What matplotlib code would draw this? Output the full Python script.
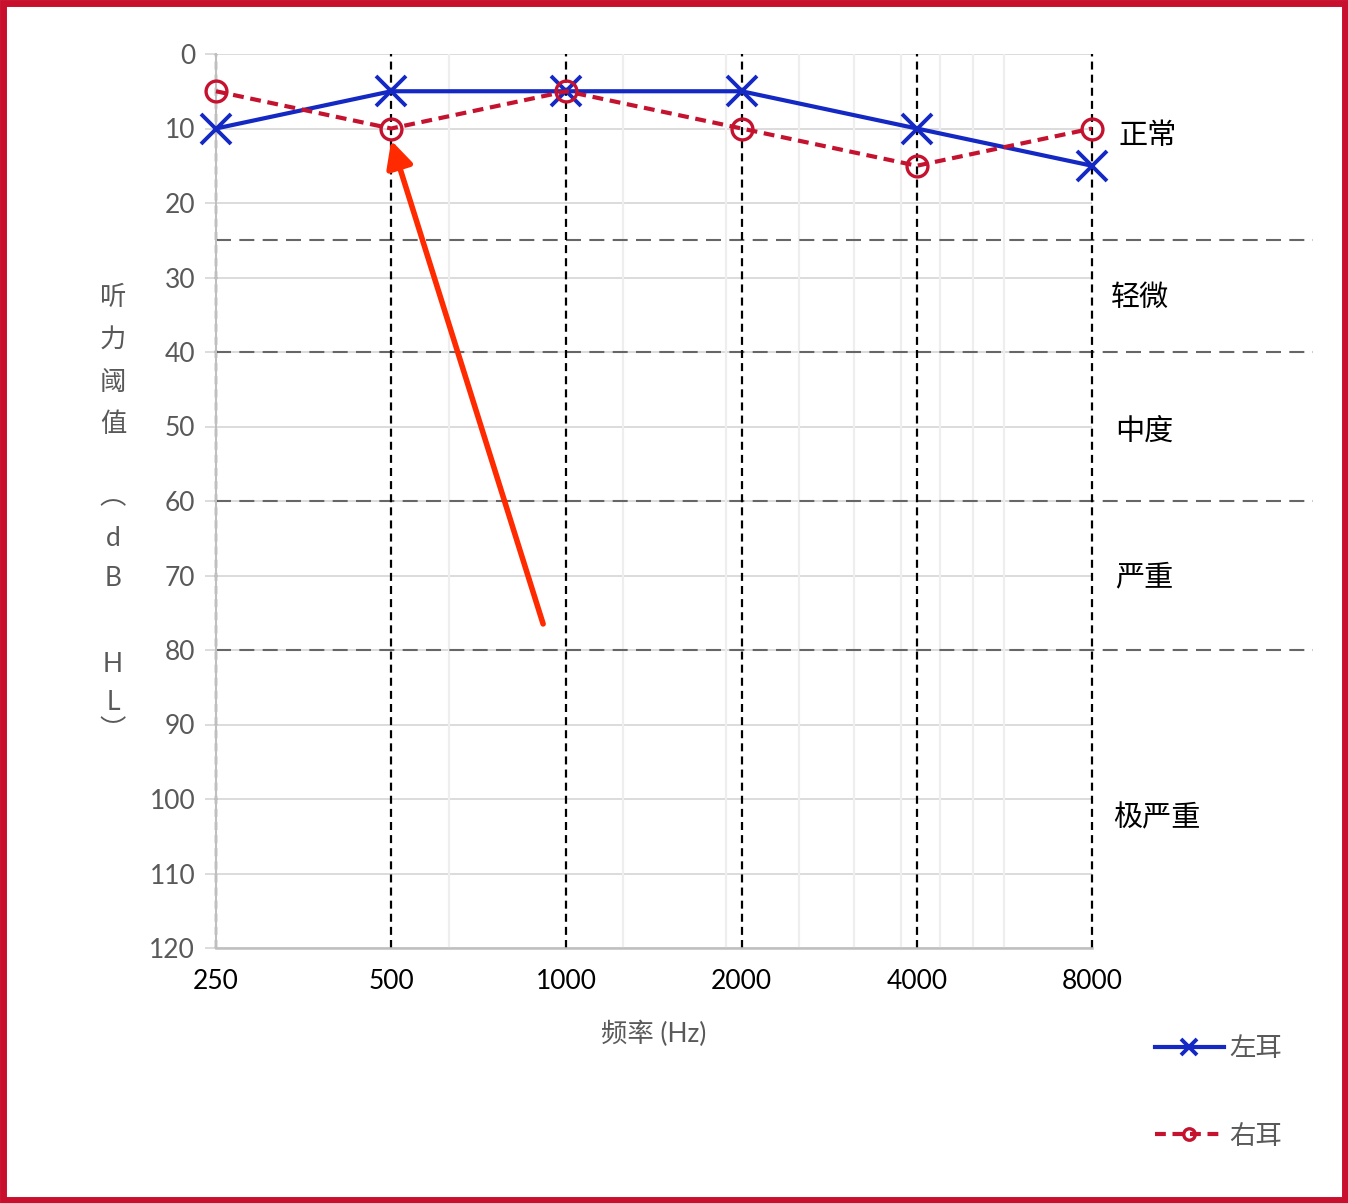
import matplotlib
matplotlib.use('Agg')
import matplotlib.pyplot as plt
import matplotlib.transforms as mtransforms
from matplotlib.patches import Rectangle

plt.rcParams['font.family'] = ['Noto Sans CJK SC', 'DejaVu Sans']

# data
freqs = [250, 500, 1000, 2000, 4000, 8000]
freq_labels = ['250', '500', '1000', '2000', '4000', '8000']
left_ear = [10, 5, 5, 5, 10, 15]
right_ear = [5, 10, 5, 10, 15, 10]
db_ticks = list(range(0, 121, 10))
band_limits = [25, 40, 60, 80]
band_names = ['正常', '轻微', '中度', '严重', '极严重']
band_label_y = [11, 32.7, 50.7, 70.2, 102.6]
band_label_x = [1.064, 1.055, 1.060, 1.060, 1.074]
minor_grid_hz = [628, 1253, 1884, 2513, 3121, 3758, 4385, 4990, 5640]
ylabel_chars = ['听', '力', '阈', '值', '︵', 'd', 'B', 'H', 'L', '︶']
ylabel_char_y = [297, 340, 383, 425, 497, 538, 578, 665, 703, 731]
arrow_tip = (500, 11.6)
arrow_tail = (912, 76.5)

W, H = 1348, 1203
fig = plt.figure(figsize=(W / 100, H / 100), dpi=100)
ax_left, ax_right, ax_top, ax_bot = 216, 1092, 54, 948
ax = fig.add_axes([ax_left / W, 1 - ax_bot / H, (ax_right - ax_left) / W, (ax_bot - ax_top) / H])

num_font = ['Lato', 'Noto Sans CJK SC']
blue = '#1428c4'
red = '#c4122f'

ax.set_xscale('log')
ax.set_xlim(250, 8000)
ax.set_ylim(120, 0)

# grid
for y in db_ticks:
    ax.axhline(y, color='#d9d9d9', lw=1.3, zorder=0)
for f in minor_grid_hz:
    ax.axvline(f, color='#eeeeee', lw=1.6, zorder=0)

# band boundaries
for b in band_limits:
    ax.axhline(b, xmin=0, xmax=(1313 - ax_left) / (ax_right - ax_left), color='#666666',
               lw=1.5, ls=(0, (7.2, 4.0)), clip_on=False, zorder=2)

# frequency verticals
for f in freqs:
    ax.axvline(f, color='black', lw=1.6, ls=(0, (3.6, 2.3)), zorder=2, clip_on=False)

ax.plot(freqs, left_ear, color=blue, lw=3, marker='x', ms=21, mew=2.8,
        label='左耳', zorder=4, clip_on=False)
ax.plot(freqs, right_ear, color=red, lw=3, ls=(0, (2.6, 1.6)), marker='o', ms=15,
        mew=2.4, mfc='none', label='右耳', zorder=4, clip_on=False)

ax.annotate('', xy=arrow_tip, xytext=arrow_tail,
            arrowprops=dict(arrowstyle='-|>,head_length=1.6,head_width=0.8',
                            color='#ff2a00', lw=4, shrinkA=0, shrinkB=0), zorder=5)

# spines / ticks
for s in ['top', 'right']:
    ax.spines[s].set_visible(False)
ax.spines['left'].set_color('#bfbfbf')
ax.spines['left'].set_linewidth(1.5)
ax.spines['bottom'].set_color('#bfbfbf')
ax.spines['bottom'].set_linewidth(1.8)

ax.set_yticks(db_ticks)
ax.set_yticklabels([str(v) for v in db_ticks], family=num_font, fontsize=19, color='#595959')
ax.tick_params(axis='y', length=8, color='#d9d9d9', width=1.3, pad=7)
ax.set_xticks(freqs)
ax.set_xticklabels(freq_labels, family=num_font, fontsize=19, color='black')
ax.xaxis.set_minor_locator(matplotlib.ticker.NullLocator())
ax.tick_params(axis='x', length=0, pad=15)

ax.set_xlabel('频率 (Hz)', family=num_font, fontsize=19, color='#595959', labelpad=19)

# band names
trans = mtransforms.blended_transform_factory(ax.transAxes, ax.transData)
for name, bx, by in zip(band_names, band_label_x, band_label_y):
    ax.text(bx, by, name, transform=trans, fontsize=21, color='black',
            ha='center', va='center', clip_on=False)

# vertical y label
for ch, py in zip(ylabel_chars, ylabel_char_y):
    fig.text(113 / W, 1 - py / H, ch, family=num_font, fontsize=19, color='#595959',
             ha='center', va='center')

# legend
leg = fig.legend(loc='upper left', bbox_to_anchor=(1155 / W, 1 - 1035 / H), frameon=False,
                 fontsize=19, handlelength=2.6, handletextpad=0.2, labelspacing=2.3,
                 borderpad=0, borderaxespad=0, markerscale=0.55)
for t in leg.get_texts():
    t.set_color('#595959')

# red outer border
fig.patches.append(Rectangle((3 / W, 3 / H), 1 - 6 / W, 1 - 6 / H, transform=fig.transFigure,
                             fill=False, edgecolor='#c8102e', lw=5))

fig.savefig('out.png', dpi=100)
